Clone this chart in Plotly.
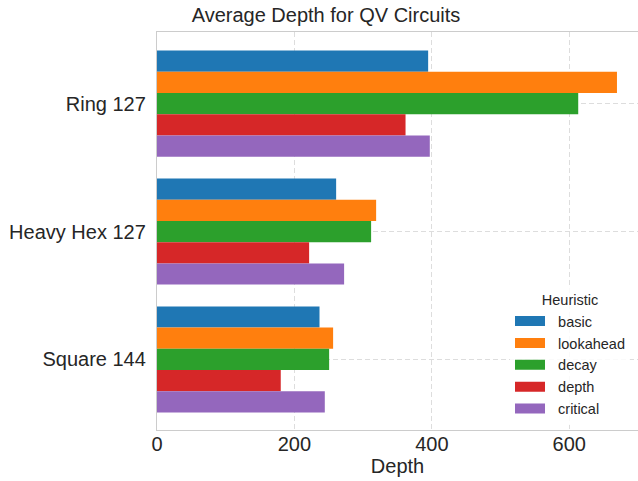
import plotly.graph_objects as go

categories = ["Ring 127", "Heavy Hex 127", "Square 144"]
heuristics = ["basic", "lookahead", "decay", "depth", "critical"]
basic = [394.6, 260.7, 236.5]
lookahead = [669.4, 318.9, 256.3]
decay = [613.0, 311.6, 250.5]
depth = [361.7, 221.4, 180.1]
critical = [397.0, 272.3, 244.2]
x_ticks = [0, 200, 400, 600]

series = [basic, lookahead, decay, depth, critical]
colors = ["#1f77b4", "#ff7f0e", "#2ca02c", "#d62728", "#9467bd"]
FONT = "Liberation Sans, Arial, sans-serif"
TXT = "#262626"
PAD = "\u00a0\u00a0"

fig = go.Figure()
for name, vals, col in zip(heuristics, series, colors):
    fig.add_trace(go.Bar(
        y=categories, x=vals, name=name, orientation="h",
        marker=dict(color=col, line=dict(width=0)),
        showlegend=False,
    ))
for name, col in zip(heuristics, colors):
    fig.add_trace(go.Scatter(
        x=[None], y=[None], mode="lines", name=PAD + name,
        line=dict(color=col, width=10),
        showlegend=True,
    ))

fig.update_layout(
    width=638, height=481,
    margin=dict(l=157, r=0, t=32, b=51, autoexpand=False),
    paper_bgcolor="white", plot_bgcolor="white",
    barmode="group", bargap=0.17, bargroupgap=0,
    font=dict(family=FONT, color=TXT, size=20),
    title=dict(text="Average Depth for QV Circuits", x=326/638, xref="container",
               xanchor="center", y=1-15/481, yanchor="middle",
               font=dict(size=20, color=TXT)),
    legend=dict(
        title=dict(text="Heuristic", side="top center", font=dict(size=14.5, color=TXT)),
        font=dict(size=14.5, color=TXT),
        x=0.7339, y=0.361, xanchor="left", yanchor="top",
        bgcolor="rgba(255,255,255,0.85)", borderwidth=0,
        itemwidth=30,
    ),
)
fig.update_xaxes(
    range=[0, 700], tickvals=x_ticks, ticks="",
    showgrid=True, gridcolor="#dddddd", griddash="5px,3px", gridwidth=1,
    showline=True, linecolor="#cccccc", linewidth=1.3, mirror=True,
    zeroline=False, ticklabelstandoff=-4, automargin=False,
    title=dict(text="Depth", font=dict(size=20, color=TXT), standoff=2),
    tickfont=dict(size=20, color=TXT),
)
fig.update_yaxes(
    type="category", categoryorder="array", categoryarray=categories,
    range=[2.551, -0.559], ticks="",
    showgrid=True, gridcolor="#dddddd", griddash="5px,3px", gridwidth=1,
    showline=True, linecolor="#cccccc", linewidth=1.3, mirror=False,
    zeroline=False, ticklabelstandoff=6, automargin=False,
    tickfont=dict(size=20, color=TXT),
)

fig.write_html("out.html", config={"displayModeBar": False},
               post_script="document.body.style.margin='0';")
